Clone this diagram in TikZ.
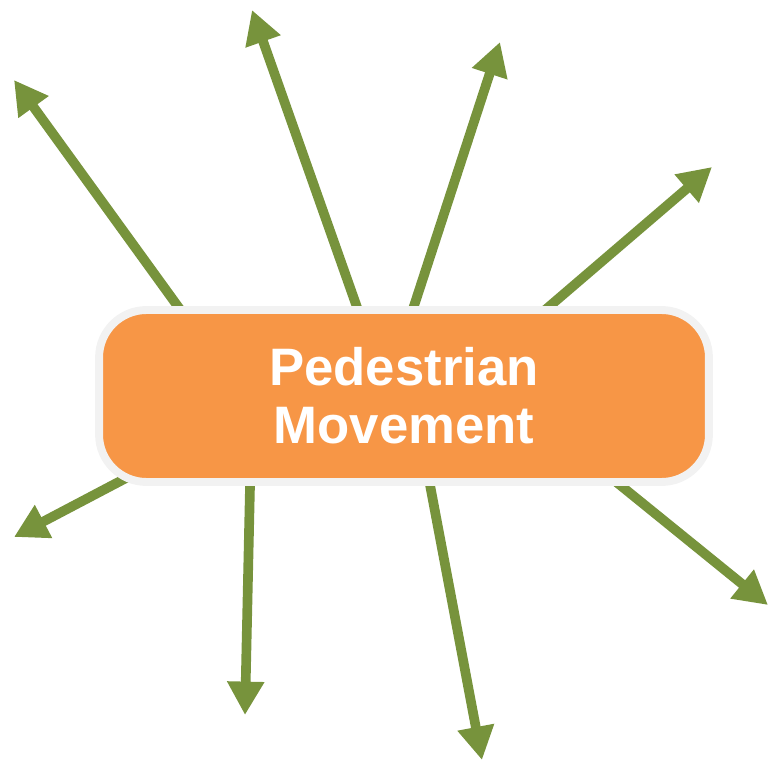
\documentclass[tikz,border=0pt]{standalone}
\usepackage{fontspec}
\setsansfont{Liberation Sans}
\usepackage{xcolor}
\usepackage{tikz}
\usetikzlibrary{arrows.meta, positioning, calc, shadows}
\definecolor{boxorange}{RGB}{247, 150, 70}
\definecolor{rimgray}{RGB}{242, 242, 242}
\definecolor{leafgreen}{RGB}{119, 147, 60}

\begin{document}
\begin{tikzpicture}[
    x=0.02cm, y=-0.02cm,
    hub/.style={rectangle, draw=rimgray, fill=boxorange, line width=4.5pt, rounded corners=0.95cm, minimum width=12.2cm, minimum height=3.44cm, align=center, text=white, font=\sffamily\bfseries\fontsize{30}{33}\selectfont, drop shadow={shadow xshift=0.8pt, shadow yshift=-1.5pt, fill=brown!60!black, opacity=0.35}},
    arrow/.style={-{Triangle[length=19pt, width=20pt]}, line width=5.5pt, color=leafgreen}
]
    \useasboundingbox (0,0) rectangle (768,760);

    % start points hidden under the box
    \coordinate (s1) at (242,395);
    \coordinate (s2) at (388,395);
    \coordinate (s3) at (385,395);
    \coordinate (s4) at (446,395);
    \coordinate (s5) at (509,395);
    \coordinate (s6) at (413,395);
    \coordinate (s7) at (252,395);
    \coordinate (s8) at (284,395);

    % arrow tips
    \coordinate (t1) at (14,80);
    \coordinate (t2) at (252,10);
    \coordinate (t3) at (500,42);
    \coordinate (t4) at (712,167);
    \coordinate (t5) at (768,605);
    \coordinate (t6) at (482,760);
    \coordinate (t7) at (245,715);
    \coordinate (t8) at (14,537);

    \foreach \i in {1,...,8}
        \draw[arrow] (s\i) -- (t\i);

    \node[hub] (ped) at (404,396) {Pedestrian\\Movement};
\end{tikzpicture}
\end{document}
